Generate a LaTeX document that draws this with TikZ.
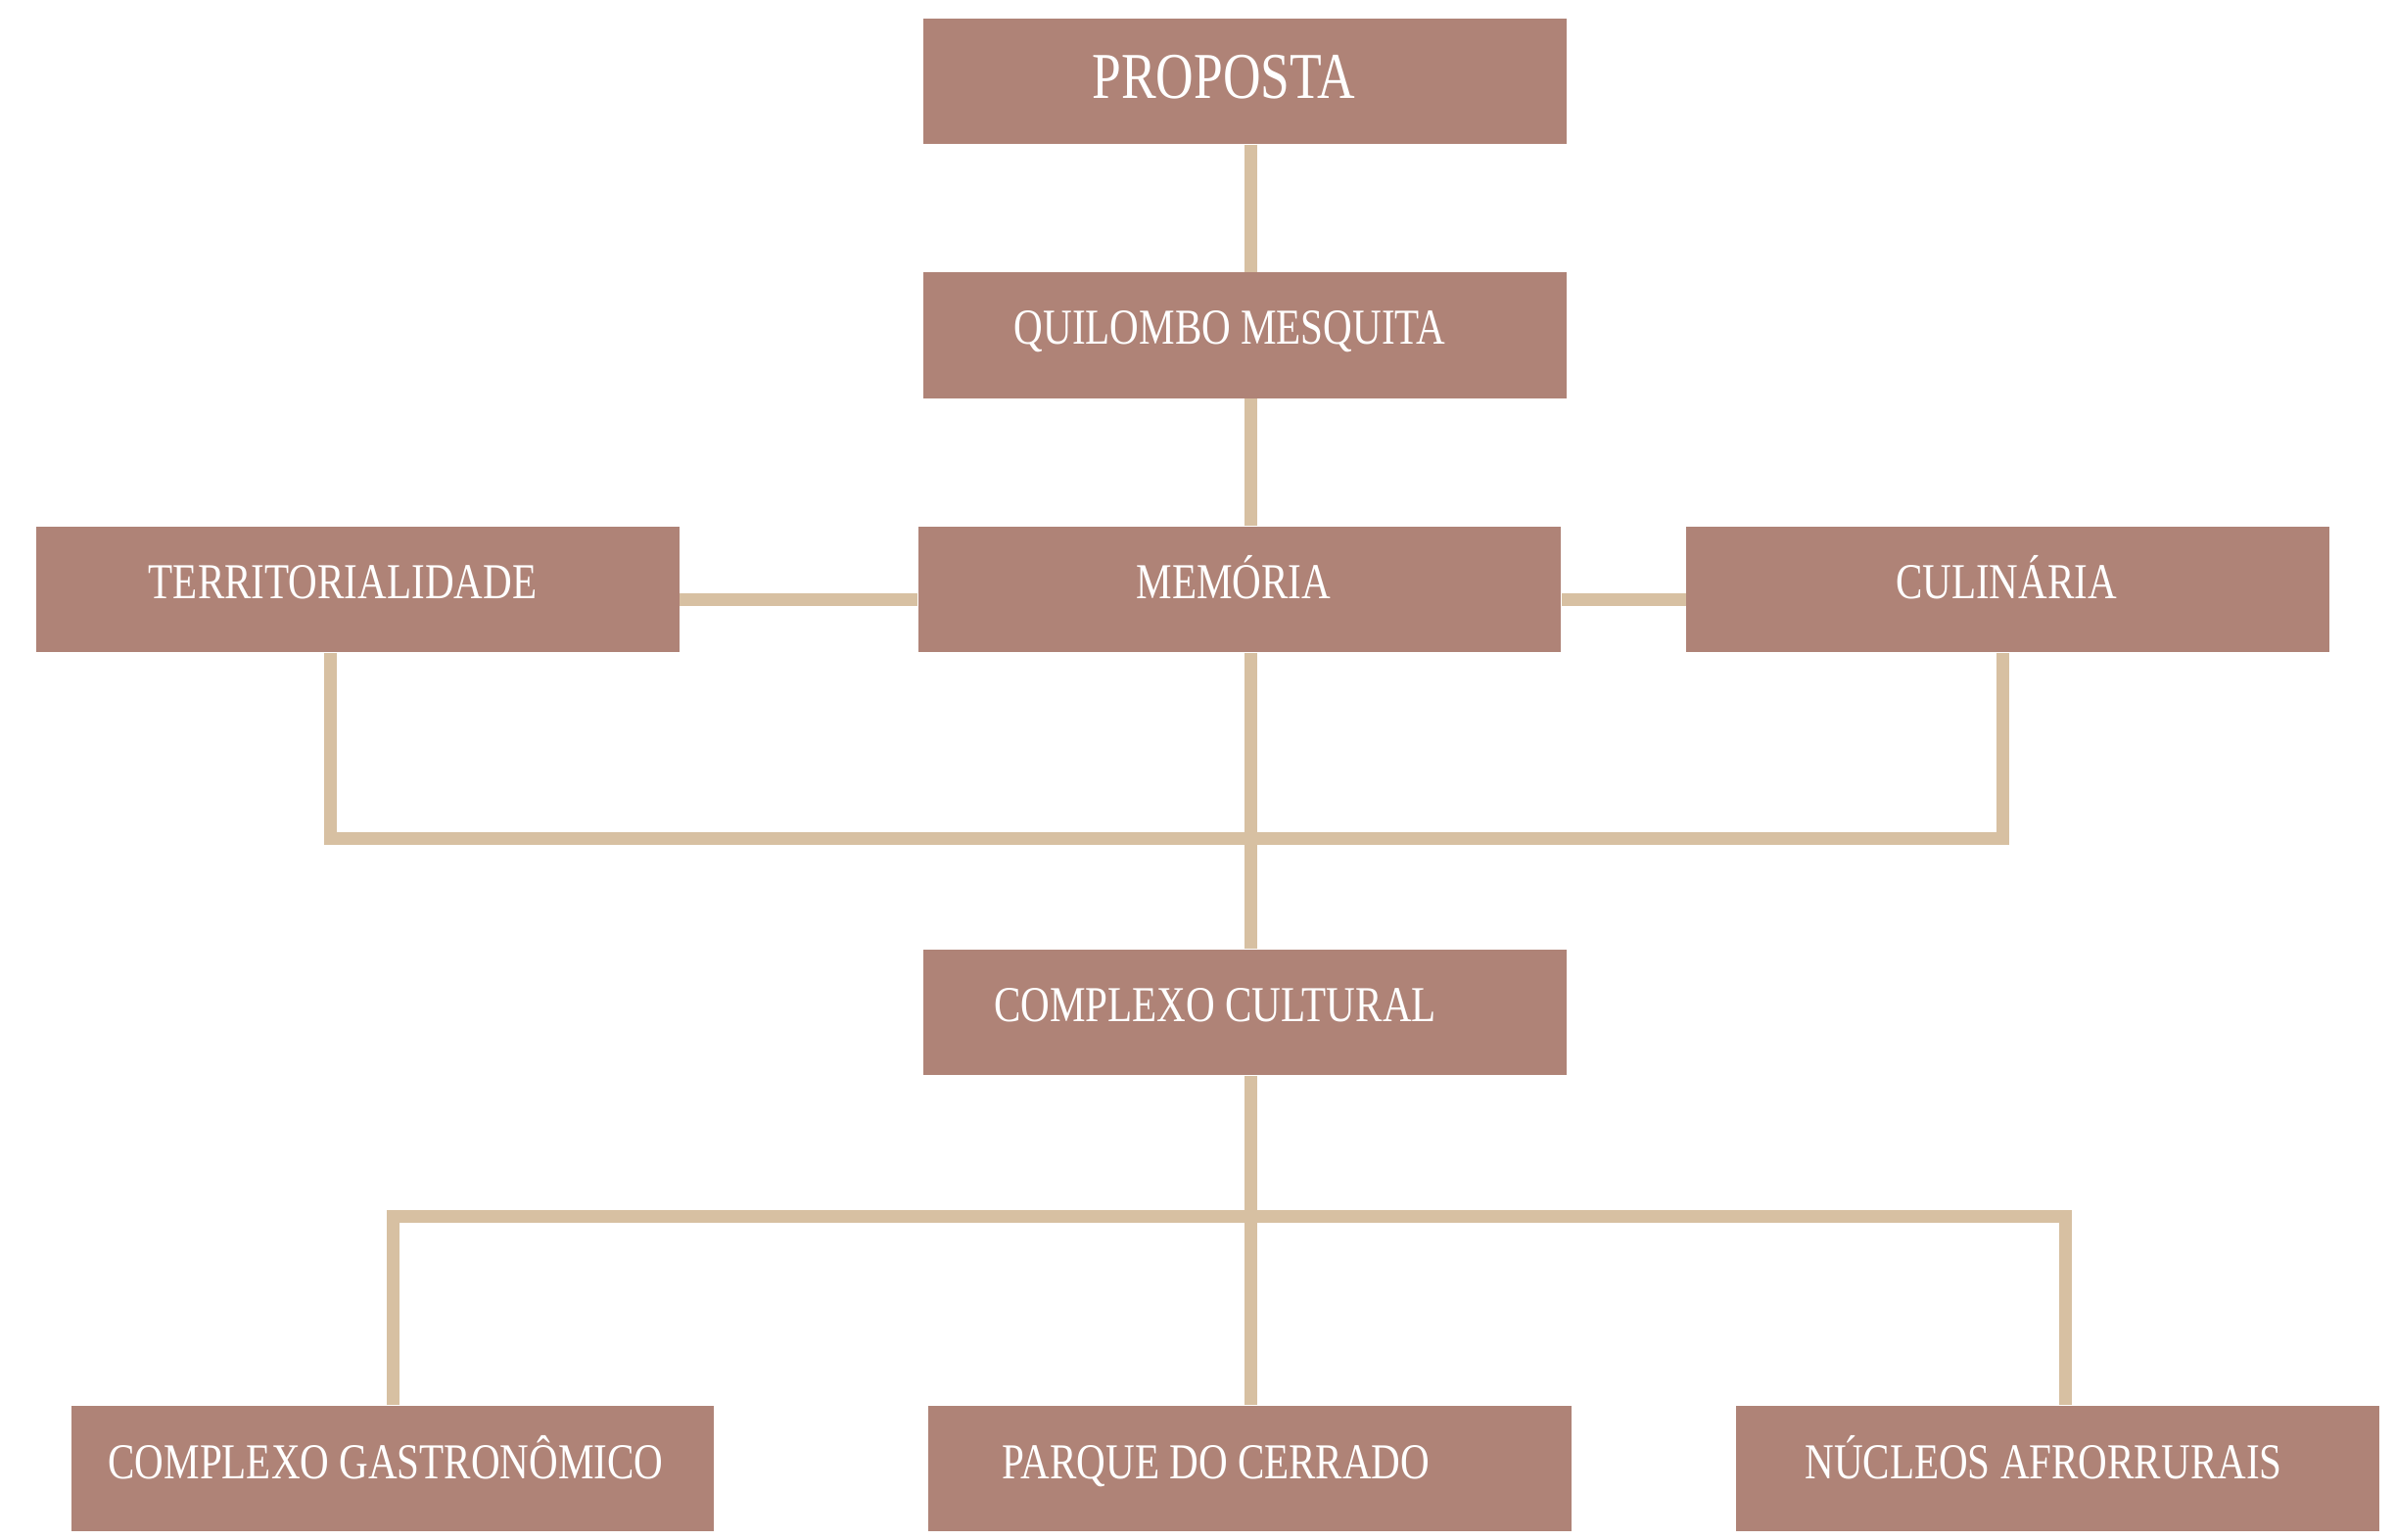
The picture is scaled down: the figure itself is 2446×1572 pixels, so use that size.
\documentclass[tikz,border=0pt]{standalone}
\usepackage{fontspec}
\newfontfamily\rotfont[FakeStretch=0.8]{Liberation Serif}
\definecolor{caixacor}{RGB}{175,131,119}
\definecolor{linhacor}{RGB}{215,192,162}
\tikzset{
  caixa/.style={rectangle, fill=caixacor, minimum width=6.56cm, minimum height=1.28cm, inner sep=0pt},
  rotulo/.style={text=white, anchor=base, inner sep=0pt, font=\rotfont\fontsize{14.6}{16}\selectfont},
  linha/.style={draw=linhacor, line width=0.13cm}
}
\begin{document}
\begin{tikzpicture}[x=0.01cm, y=-0.01cm]
\useasboundingbox (0,0) rectangle (2446,1572);
\node[caixa] (proposta) at (1271.5,83) {};
\node[caixa] (quilombo) at (1271.5,342.5) {};
\node[caixa] (territorialidade) at (365.5,602) {};
\node[caixa] (memoria) at (1266,602) {};
\node[caixa] (culinaria) at (2050.5,602) {};
\node[caixa] (cultural) at (1271.5,1034) {};
\node[caixa] (gastronomico) at (401,1500) {};
\node[caixa] (parque) at (1276.5,1500) {};
\node[caixa] (nucleos) at (2101.5,1500) {};
\node[rotulo, font=\rotfont\fontsize{19}{21}\selectfont] (tproposta) at (1250,100) {PROPOSTA};
\node[rotulo] (tquilombo) at (1256,351) {QUILOMBO MESQUITA};
\node[rotulo] (tterritorialidade) at (350,611) {TERRITORIALIDADE};
\node[rotulo] (tmemoria) at (1260,611) {MEMÓRIA};
\node[rotulo] (tculinaria) at (2049,611) {CULINÁRIA};
\node[rotulo] (tcultural) at (1241,1043) {COMPLEXO CULTURAL};
\node[rotulo] (tgastronomico) at (394,1510) {COMPLEXO GASTRONÔMICO};
\node[rotulo] (tparque) at (1242,1510) {PARQUE DO CERRADO};
\node[rotulo] (tnucleos) at (2087,1510) {NÚCLEOS AFRORRURAIS};
\coordinate (eixo) at (1277.5,612.5);
\coordinate (cantoT) at (337,856.5);
\coordinate (cantoC) at (2045.5,856.5);
\coordinate (cantoG) at (401.5,1242.5);
\coordinate (cantoN) at (2109,1242.5);
\draw[linha] (proposta.south -| eixo) -- (quilombo.north -| eixo);
\draw[linha] (quilombo.south -| eixo) -- (memoria.north -| eixo);
\draw[linha] (territorialidade.east |- eixo) -- (memoria.west |- eixo);
\draw[linha] (memoria.east |- eixo) -- (culinaria.west |- eixo);
\draw[linha] (memoria.south -| eixo) -- (cultural.north -| eixo);
\draw[linha] (territorialidade.south -| cantoT) -- (cantoT) -- (cantoC) -- (culinaria.south -| cantoC);
\draw[linha] (cultural.south -| eixo) -- (parque.north -| eixo);
\draw[linha] (gastronomico.north -| cantoG) -- (cantoG) -- (cantoN) -- (nucleos.north -| cantoN);
\end{tikzpicture}
\end{document}
